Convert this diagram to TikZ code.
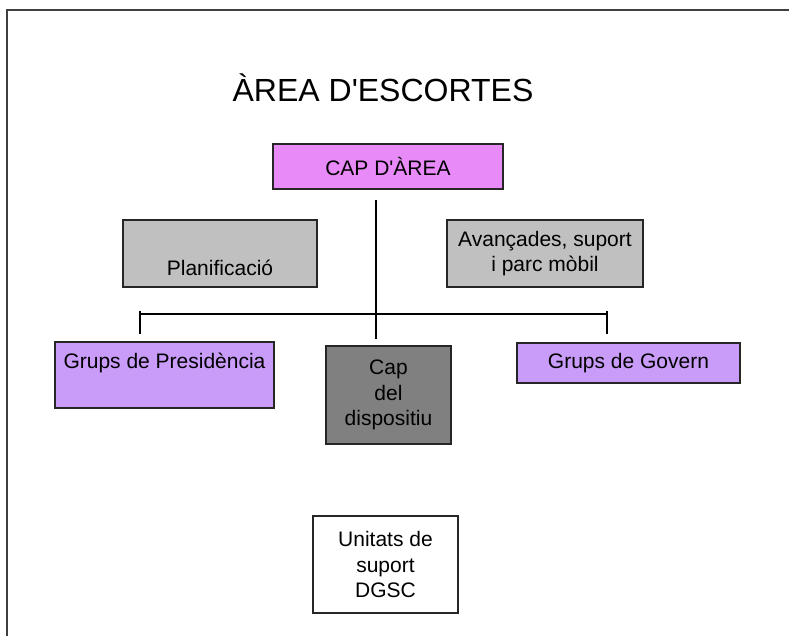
\documentclass[tikz,border=0pt]{standalone}
\usepackage{fontspec}
\setmainfont{Liberation Sans}
\definecolor{capc}{HTML}{E88AF8}
\definecolor{lav}{HTML}{C89CF8}
\definecolor{lgray}{HTML}{C0C0C0}
\definecolor{dgray}{HTML}{808080}
\definecolor{frame}{HTML}{404040}
\begin{document}
\begin{tikzpicture}[x=1pt,y=-1pt,
  txt/.style={font=\fontsize{21}{25.5}\selectfont, align=center},
  box/.style={draw=black!85, line width=1.6pt, inner sep=0pt, txt},
  conn/.style={draw=black, line width=1.4pt}]
\useasboundingbox (0,0) rectangle (789,636);
\draw[frame, line width=2pt] (7,636) -- (7,10) -- (789,10);
\node[font=\fontsize{32}{38}\selectfont] (title) at (383,88) {ÀREA D\textquotesingle ESCORTES};
\node[box, fill=capc, minimum width=230pt, minimum height=45pt] (cap) at (388,166.5) {CAP D\textquotesingle ÀREA};
\node[box, fill=lgray, minimum width=194pt, minimum height=67pt] (plan) at (220,253.5) {};
\node[txt] (plant) at (220,268) {Planificació};
\node[box, fill=lgray, minimum width=196pt, minimum height=67pt] (avan) at (545,253.5) {Avançades, suport\\i parc mòbil};
\node[box, fill=lav, minimum width=219pt, minimum height=66pt] (pres) at (164.5,375) {};
\node[txt] (prest) at (164.5,363) {Grups de Presidència};
\node[box, fill=dgray, minimum width=125pt, minimum height=98pt] (disp) at (388.5,395) {Cap\\del\\dispositiu};
\node[box, fill=lav, minimum width=223pt, minimum height=40pt] (gov) at (628.5,363) {Grups de Govern};
\node[box, fill=white, minimum width=145pt, minimum height=97pt] (unit) at (385.5,564.5) {Unitats de\\suport\\DGSC};
\coordinate (vtop) at (376,200);
\coordinate (vbot) at (376,339);
\coordinate (hl) at (140,314);
\coordinate (hr) at (607,314);
\coordinate (tlt) at (140,311);
\coordinate (tlb) at (140,334);
\coordinate (trt) at (607,311);
\coordinate (trb) at (607,334);
\draw[conn] (vtop) -- (vbot);
\draw[conn] (hl) -- (hr);
\draw[conn] (tlt) -- (tlb);
\draw[conn] (trt) -- (trb);
\end{tikzpicture}
\end{document}
